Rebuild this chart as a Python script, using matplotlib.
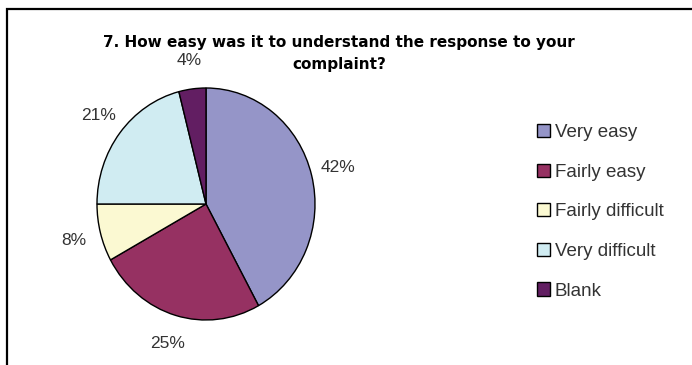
import matplotlib
matplotlib.use("Agg")
import matplotlib.pyplot as plt
from matplotlib.patches import Rectangle

# survey answers, percent of responses
labels = ["Very easy", "Fairly easy", "Fairly difficult", "Very difficult", "Blank"]
values = [42, 25, 8, 21, 4]
colors = ["#9595C8", "#963162", "#FBF9D2", "#D0ECF2", "#621E62"]

title_lines = ["7. How easy was it to understand the response to your", "complaint?"]

fig = plt.figure(figsize=(6.92, 3.65), dpi=100)
W, H = 692, 365

# outer chart frame (runs off the right and bottom edges)
fig.patches.append(Rectangle((7 / W, -0.1), 1.2, (H - 9) / H + 0.1,
                             transform=fig.transFigure, fill=False,
                             edgecolor="black", linewidth=1.6))

# pie axes: slightly taller than wide
cx, cy, rx, ry = 206, 204, 109, 116
ax = fig.add_axes([(cx - rx) / W, (H - cy - ry) / H, 2 * rx / W, 2 * ry / H])
wedges, texts, autotexts = ax.pie(
    values, colors=colors, startangle=90, counterclock=False,
    autopct=lambda p: f"{p:.0f}%", pctdistance=1.25,
    wedgeprops=dict(edgecolor="black", linewidth=1.0),
    textprops=dict(fontsize=12.5, family="Liberation Sans", color="#333333"))
ax.set_aspect("auto")
ax.set_xlim(-1, 1)
ax.set_ylim(-1, 1)
ax.axis("off")

# two-line title, one text per line
for line, y in zip(title_lines, [42, 65]):
    fig.text(339 / W, 1 - y / H, line, ha="center", va="center",
             fontsize=11, fontweight="bold", family="DejaVu Sans")

leg = fig.legend(wedges, labels, loc="upper left",
                 bbox_to_anchor=(520 / W, 1 - 107 / H),
                 frameon=False, handlelength=0.7, handleheight=0.7,
                 handletextpad=0.25, labelspacing=1.2,
                 prop=dict(family="Liberation Sans", size=13.5))
for t in leg.get_texts():
    t.set_color("#333333")

fig.savefig("out.png", dpi=100, facecolor="white")
